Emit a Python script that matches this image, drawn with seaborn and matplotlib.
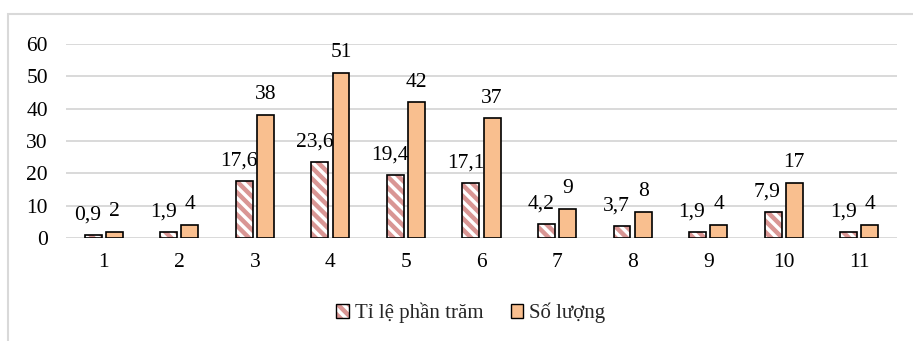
import matplotlib
matplotlib.use("Agg")
import numpy as np
import pandas as pd
import matplotlib.pyplot as plt
import seaborn as sns
from matplotlib.patches import Rectangle, Patch
from matplotlib.legend_handler import HandlerTuple

groups = [str(i) for i in range(1, 12)]
percent = [0.9, 1.9, 17.6, 23.6, 19.4, 17.1, 4.2, 3.7, 1.9, 7.9, 1.9]
counts = [2, 4, 38, 51, 42, 37, 9, 8, 4, 17, 4]
series_names = ["Tỉ lệ phần trăm", "Số lượng"]
yticks = [0, 10, 20, 30, 40, 50, 60]

PINK = "#D99694"
ORANGE = "#F9BF8F"
GRID = "#D9D9D9"
FS = 15.5
HATCH = "\\\\\\"

sns.set_theme(style="white")
plt.rcParams["font.family"] = ["Liberation Serif", "DejaVu Serif"]
plt.rcParams["hatch.linewidth"] = 3.2

df = pd.DataFrame({
    "group": groups * 2,
    "value": percent + counts,
    "series": [series_names[0]] * len(groups) + [series_names[1]] * len(groups),
})

fig = plt.figure(figsize=(9.13, 3.41), dpi=100)
ax = fig.add_axes([66 / 913, 103 / 341, 831 / 913, 194 / 341])

sns.barplot(data=df, x="group", y="value", hue="series", order=groups,
            hue_order=series_names, palette=["white", ORANGE], saturation=1,
            width=0.56, gap=0.2, edgecolor="black", linewidth=1.2,
            legend=False, ax=ax, zorder=3)

# hatched bars: pink stripes + black outline drawn on top
for bar in ax.containers[0]:
    bar.set_edgecolor(PINK)
    bar.set_hatch(HATCH)
    bar.set_linewidth(0)
    ax.add_patch(Rectangle(bar.get_xy(), bar.get_width(), bar.get_height(),
                           fill=False, edgecolor="black", linewidth=1.2, zorder=4))

# data labels
for cont, vals, dx in zip(ax.containers, [percent, counts], [-4, 0]):
    for bar, v in zip(cont, vals):
        txt = f"{v:.1f}".replace(".", ",") if isinstance(v, float) else str(v)
        ax.annotate(txt, (bar.get_x() + bar.get_width() / 2, v),
                    xytext=(dx, 14.5), textcoords="offset points",
                    ha="center", va="center", fontsize=FS, color="black")

ax.set_ylim(0, 60)
ax.set_yticks(yticks)
ax.set_xlim(-0.5, len(groups) - 0.5)
ax.yaxis.grid(True, color=GRID, linewidth=1.4, zorder=0)
ax.set_axisbelow(True)
for s in ax.spines.values():
    s.set_visible(False)
ax.tick_params(axis="both", length=0, labelsize=FS, colors="black")
ax.tick_params(axis="y", pad=13)
ax.tick_params(axis="x", pad=11)
ax.set_xlabel("")
ax.set_ylabel("")

hatch_handle = (Patch(facecolor="white", edgecolor=PINK, hatch=HATCH, linewidth=0),
                Patch(fill=False, edgecolor="black", linewidth=1))
orange_handle = Patch(facecolor=ORANGE, edgecolor="black", linewidth=1)
fig.legend([hatch_handle, orange_handle], series_names,
           handler_map={tuple: HandlerTuple(ndivide=1)},
           loc="center", bbox_to_anchor=(471 / 913, 28 / 341), ncol=2,
           frameon=False, fontsize=15, handlelength=0.6, handleheight=0.6,
           handletextpad=0.3, columnspacing=1.3)

# chart border (cropped on right and bottom)
fig.patches.append(Rectangle((8 / 913, -0.1), 1.2, 1 - 14 / 341 + 0.1,
                             transform=fig.transFigure, fill=False,
                             edgecolor=GRID, linewidth=1.5))

fig.savefig("out.png", dpi=100)
